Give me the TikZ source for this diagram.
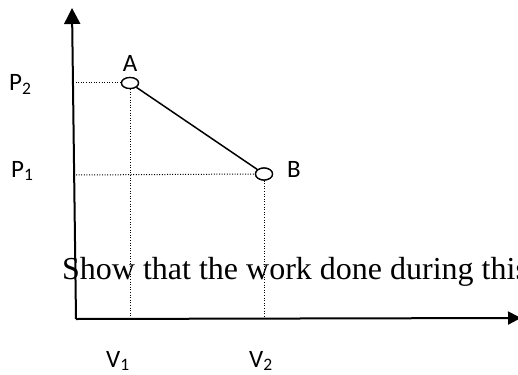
\documentclass[tikz,border=0pt]{standalone}
\usepackage{fontspec}
\setmainfont{Liberation Serif}
\newfontfamily\labfont{Carlito}
\usetikzlibrary{arrows.meta,shapes.geometric}
\begin{document}
\begin{tikzpicture}[x=1pt,y=-1pt,
  axis/.style={line width=2pt},
  guide/.style={line width=1pt, dash pattern=on 1pt off 1.6pt},
  statept/.style={ellipse, draw, line width=1.3pt, fill=white, inner sep=0pt, minimum width=17pt, minimum height=11pt},
  lab/.style={font=\labfont\fontsize{25}{30}\selectfont, inner sep=0pt},
  body/.style={font=\fontsize{32}{38}\selectfont, inner sep=0pt}
]
\useasboundingbox (0,0) rectangle (518,374);
% sentence behind the plot
\node[body, anchor=base west] (txt) at (62,279) {Show that the work done during this};
% axes
\coordinate (O) at (76,319);
\coordinate (Ytop) at (72,8);
\coordinate (Xend) at (521,318);
\draw[axis, -{Triangle[length=16pt,width=16pt]}] (O) -- (Ytop);
\draw[axis, -{Triangle[length=13pt,width=13pt]}] (O) -- (Xend);
% states
\node[statept] (A) at (130,83) {};
\node[statept, minimum height=12pt] (B) at (264,174) {};
\coordinate (p2) at (73,83);
\coordinate (p1) at (76,175);
\draw[guide] (p2) -- (A.west);
\draw[guide] (A.south) -- (A.south |- O);
\draw[guide] (p1) -- (B.west);
\draw[guide] (B.south) -- (B.south |- O);
\draw[line width=1.5pt] (A) -- (B);
\node[statept] at (A) {};
\node[statept, minimum height=12pt] at (B) {};
% labels
\node[lab, anchor=base] (la) at (130,72) {A};
\node[lab, anchor=base] (lb) at (294,177) {B};
\node[lab, anchor=base west] (lp2) at (9,91) {P\textsubscript{2}};
\node[lab, anchor=base west] (lp1) at (11,177) {P\textsubscript{1}};
\node[lab, anchor=base west] (lv1) at (106,367) {V\textsubscript{1}};
\node[lab, anchor=base west] (lv2) at (249,367) {V\textsubscript{2}};
\end{tikzpicture}
\end{document}
